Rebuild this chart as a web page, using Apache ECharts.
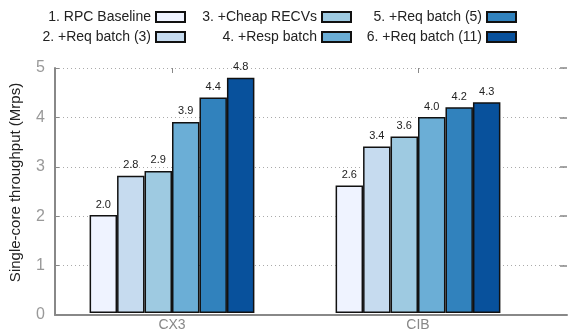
<!DOCTYPE html>
<html>
<head>
<meta charset="utf-8">
<script src="https://cdn.jsdelivr.net/npm/echarts@6/dist/echarts.min.js"></script>
<style>html,body{margin:0;padding:0;background:#fff}#c{width:570px;height:332px}</style>
</head>
<body>
<div id="c"></div>
<script>
var categories = ['CX3', 'CIB'];
var seriesNames = ['1. RPC Baseline', '2. +Req batch (3)', '3. +Cheap RECVs', '4. +Resp batch', '5. +Req batch (5)', '6. +Req batch (11)'];
var baseline = [2.0, 2.6];
var reqBatch3 = [2.8, 3.4];
var cheapRecvs = [2.9, 3.6];
var respBatch = [3.9, 4.0];
var reqBatch5 = [4.4, 4.2];
var reqBatch11 = [4.8, 4.3];
var yTicks = [0, 1, 2, 3, 4, 5];
var colors = ['#eff3ff', '#c6dbef', '#9ecae1', '#6baed6', '#3182bd', '#08519c'];
var allValues = [baseline, reqBatch3, cheapRecvs, respBatch, reqBatch5, reqBatch11];

var font = 'Liberation Sans, Arial, sans-serif';
var chart = echarts.init(document.getElementById('c'), null, {renderer: 'canvas'});

var series = allValues.map(function (vals, i) {
  return {
    name: seriesNames[i],
    type: 'bar',
    xAxisIndex: 1,
    yAxisIndex: 2,
    data: vals,
    barGap: '0%',
    barCategoryGap: '33%',
    itemStyle: {color: colors[i], borderColor: '#111', borderWidth: 1.5},
    label: {
      show: true, position: 'top', distance: 5,
      formatter: function (p) { return p.value.toFixed(1); },
      fontSize: 11, color: '#222', fontFamily: font
    },
    animation: false
  };
});

function legendCol(names, right) {
  return {
    data: names, orient: 'vertical', right: right, top: 5,
    align: 'right', icon: 'rect', itemWidth: 29, itemHeight: 10, itemGap: 6,
    textStyle: {fontSize: 14, color: '#222', fontFamily: font},
    selectedMode: false
  };
}

chart.setOption({
  animation: false,
  backgroundColor: '#fff',
  legend: [
    legendCol([seriesNames[0], seriesNames[1]], 379),
    legendCol([seriesNames[2], seriesNames[3]], 213),
    legendCol([seriesNames[4], seriesNames[5]], 48)
  ],
  grid: [
    {left: 49, right: 3, top: 68, bottom: 17},
    {left: 49, right: 29, top: 68, bottom: 17}
  ],
  xAxis: [
    {type: 'value', gridIndex: 0, min: 0, max: 1, axisLabel: {show: false}, axisTick: {show: false},
     splitLine: {show: false}, axisLine: {show: true, lineStyle: {color: '#888', width: 2}}},
    {type: 'category', gridIndex: 1, data: categories, axisLine: {show: false}, axisTick: {show: false},
     axisLabel: {fontSize: 14, color: '#888', margin: 5, fontFamily: font}},
    {type: 'category', gridIndex: 1, position: 'top', data: categories, axisLine: {show: false},
     axisTick: {show: true, inside: true, alignWithLabel: true, length: 5, lineStyle: {color: '#888'}},
     axisLabel: {show: false}}
  ],
  yAxis: [
    {type: 'value', gridIndex: 0, min: 0, max: 5, interval: 1,
     name: 'Single-core throughput (Mrps)', nameLocation: 'middle', nameGap: 32,
     nameTextStyle: {fontSize: 15, color: '#222', fontFamily: font, padding: [0, 0, 0, 18]},
     axisLine: {show: true, lineStyle: {color: '#888', width: 2}},
     axisTick: {show: true, inside: true, length: 4, lineStyle: {color: '#888'}},
     axisLabel: {fontSize: 16, color: '#999', margin: 10, fontFamily: font},
     splitLine: {show: true, lineStyle: {type: [1, 3], color: '#aaa', width: 1}}},
    {type: 'value', gridIndex: 0, position: 'right', min: 0, max: 5, interval: 1,
     axisLine: {show: false}, axisLabel: {show: false}, splitLine: {show: false},
     axisTick: {show: true, inside: true, length: 7, lineStyle: {color: '#888', width: 1.5}}},
    {type: 'value', gridIndex: 1, min: 0, max: 5, interval: 1, show: false}
  ],
  series: series
});
</script>
</body>
</html>
